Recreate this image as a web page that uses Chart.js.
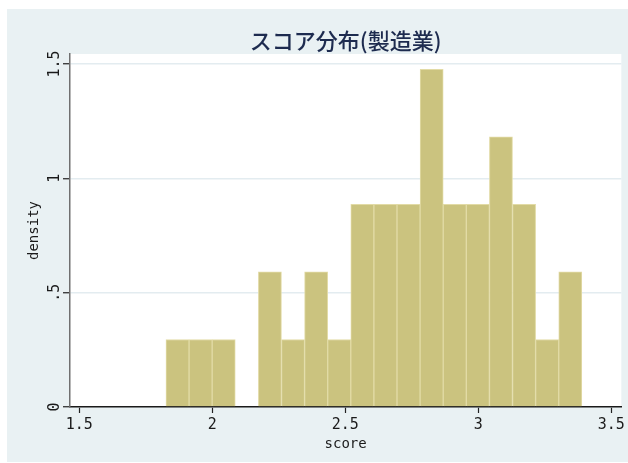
<!DOCTYPE html>
<html>
<head>
<meta charset="utf-8">
<script src="https://cdn.jsdelivr.net/npm/chart.js@4"></script>
<style>
html,body{margin:0;padding:0;background:#fff;}
canvas{display:block;}
</style>
</head>
<body>
<canvas id="c" width="628" height="463"></canvas>
<script>
// ---- data ----
const binCenters = [1.8692, 1.9561, 2.0429, 2.1298, 2.2166, 2.3035, 2.3903, 2.4772, 2.5640,
                    2.6509, 2.7377, 2.8246, 2.9114, 2.9983, 3.0851, 3.1720, 3.2588, 3.3457];
const densities  = [0.295, 0.295, 0.295, 0, 0.591, 0.295, 0.591, 0.295, 0.886,
                    0.886, 0.886, 1.477, 0.886, 0.886, 1.182, 0.886, 0.295, 0.591];
const xTickValues = [1.5, 2, 2.5, 3, 3.5];
const xTickLabels = ['1.5', '2', '2.5', '3', '3.5'];
const yTickValues = [0, 0.5, 1, 1.5];
const yTickLabels = ['0', '.5', '1', '1.5'];
const titleText = 'スコア分布(製造業)';
const xTitle = 'score';
const yTitle = 'density';

const monoFont = '"DejaVu Sans Mono", "Liberation Mono", monospace';

const bgPlugin = {
  id: 'bg',
  beforeDraw(chart) {
    const {ctx, chartArea} = chart;
    ctx.save();
    ctx.fillStyle = '#ffffff';
    ctx.fillRect(0, 0, chart.width, chart.height);
    ctx.fillStyle = '#e9f1f3';
    ctx.fillRect(7, 9, chart.width - 7, chart.height - 10);
    ctx.fillStyle = '#ffffff';
    ctx.fillRect(chartArea.left, chartArea.top, chartArea.right - chartArea.left, chartArea.bottom - chartArea.top);
    ctx.restore();
  }
};

new Chart(document.getElementById('c'), {
  type: 'bar',
  data: {
    datasets: [{
      data: binCenters.map((x, i) => ({x: x, y: densities[i]})),
      backgroundColor: '#cbc37f',
      borderColor: '#e2dba6',
      borderWidth: 1,
      barPercentage: 1,
      categoryPercentage: 1
    }]
  },
  options: {
    responsive: false,
    animation: false,
    devicePixelRatio: 1,
    layout: {padding: {left: 0, right: 5.3, top: 0, bottom: 0}},
    plugins: {
      legend: {display: false},
      tooltip: {enabled: false},
      title: {
        display: true,
        fullSize: false,
        text: titleText,
        color: '#1d2b4f',
        font: {family: '"Noto Sans CJK JP", sans-serif', size: 22, weight: '500'},
        padding: {top: 27.5, bottom: 0.1}
      }
    },
    scales: {
      x: {
        type: 'linear',
        min: 1.4651,
        max: 3.5375,
        offset: false,
        z: 1,
        afterFit(scale) { scale.height = 56; },
        afterBuildTicks(scale) { scale.ticks = xTickValues.map(v => ({value: v})); },
        grid: {offset: false, drawOnChartArea: false, tickLength: 6, tickColor: '#222', tickWidth: 1.2},
        border: {color: '#1a1a1a', width: 1.5},
        ticks: {
          padding: 3,
          color: '#1a1a1a',
          font: {family: monoFont, size: 15},
          maxRotation: 0,
          callback: (v) => { const i = xTickValues.indexOf(v); return i >= 0 ? xTickLabels[i] : ''; }
        },
        title: {
          display: true, text: xTitle, color: '#1a1a1a',
          font: {family: monoFont, size: 14},
          padding: {top: 0, bottom: 10}
        }
      },
      y: {
        min: 0,
        max: 1.5437,
        afterFit(scale) { scale.width = 70; },
        afterBuildTicks(scale) { scale.ticks = yTickValues.map(v => ({value: v})); },
        grid: {offset: false, color: '#e3ecf0', lineWidth: 1.5, tickLength: 7, tickColor: '#222', tickWidth: 1.2},
        border: {color: '#707070', width: 1.5},
        ticks: {
          padding: -6,
          crossAlign: 'center',
          minRotation: 90,
          maxRotation: 90,
          color: '#1a1a1a',
          font: {family: monoFont, size: 15},
          callback: (v) => { const i = yTickValues.indexOf(v); return i >= 0 ? yTickLabels[i] : ''; }
        },
        title: {
          display: true, text: yTitle, color: '#1a1a1a',
          font: {family: monoFont, size: 14},
          padding: {top: 25.6, bottom: 0}
        }
      }
    }
  },
  plugins: [bgPlugin]
});
</script>
</body>
</html>
